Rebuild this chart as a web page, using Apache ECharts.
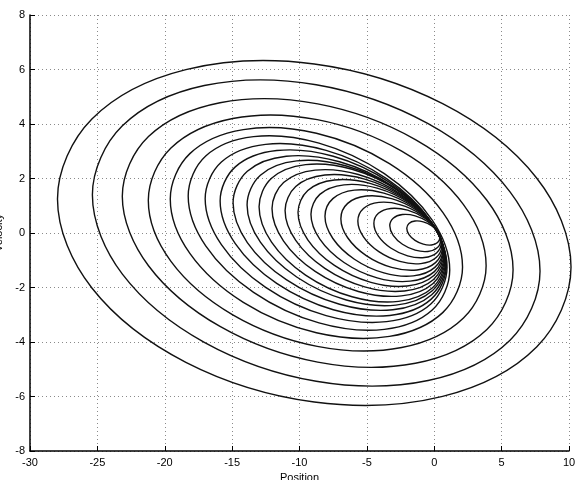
<!DOCTYPE html>
<html>
<head>
<meta charset="utf-8">
<script src="https://cdn.jsdelivr.net/npm/echarts@6/dist/echarts.min.js"></script>
<style>
html,body{margin:0;padding:0;background:#fff;}
#chart{width:579px;height:480px;}
</style>
</head>
<body>
<div id="chart"></div>
<script>
// Axis ticks
const xTicks = [-30, -25, -20, -15, -10, -5, 0, 5, 10];
const yTicks = [-8, -6, -4, -2, 0, 2, 4, 6, 8];
const xLabel = 'Position';
const yLabel = 'Velocity';

// Phase-plane loops, outermost first: [position, velocity] points
const orbit01 = [[10.15,-1.25],[7.597,-4.183],[0.623,-5.994],[-8.905,-6.2],[-18.433,-4.744],[-25.407,-2.018],[-27.96,1.25],[-25.407,4.183],[-18.433,5.994],[-8.905,6.2],[0.623,4.744],[7.597,2.018]];
const orbit02 = [[7.85,-1.4],[5.624,-3.932],[-0.455,-5.411],[-8.76,-5.44],[-17.065,-4.011],[-23.144,-1.508],[-25.37,1.4],[-23.144,3.932],[-17.065,5.411],[-8.76,5.44],[-0.455,4.011],[5.624,1.508]];
const orbit03 = [[5.85,-1.35],[3.907,-3.539],[-1.40,-4.78],[-8.65,-4.74],[-15.90,-3.43],[-21.207,-1.201],[-23.15,1.35],[-21.207,3.539],[-15.90,4.78],[-8.65,4.74],[-1.40,3.43],[3.907,1.201]];
const orbit04 = [[3.85,-1.2],[2.17,-3.119],[-2.418,-4.203],[-8.685,-4.16],[-14.953,-3.003],[-19.54,-1.041],[-21.22,1.2],[-19.54,3.119],[-14.953,4.203],[-8.685,4.16],[-2.418,3.003],[2.17,1.041]];
const orbit05 = [[2.10,-1.25],[0.647,-2.913],[-3.323,-3.795],[-8.745,-3.66],[-14.168,-2.545],[-18.137,-0.748],[-19.59,1.25],[-18.137,2.913],[-14.168,3.795],[-8.745,3.66],[-3.323,2.545],[0.647,0.748]];
const orbit06 = [[1.15,-1.36],[-0.15,-2.828],[-3.703,-3.538],[-8.555,-3.30],[-13.408,-2.178],[-16.96,-0.472],[-18.26,1.36],[-16.96,2.828],[-13.408,3.538],[-8.555,3.30],[-3.703,2.178],[-0.15,0.472]];
const orbit07 = [[0.95,-1.26],[-0.253,-2.606],[-3.538,-3.254],[-8.025,-3.03],[-12.513,-1.994],[-15.797,-0.424],[-17.0,1.26],[-15.797,2.606],[-12.513,3.254],[-8.025,3.03],[-3.538,1.994],[-0.253,0.424]];
const orbit08 = [[0.90,-1.175],[-0.225,-2.426],[-3.298,-3.025],[-7.495,-2.815],[-11.693,-1.850],[-14.765,-0.39],[-15.89,1.175],[-14.765,2.426],[-11.693,3.025],[-7.495,2.815],[-3.298,1.850],[-0.225,0.39]];
const orbit09 = [[0.87,-1.106],[-0.189,-2.266],[-3.08,-2.818],[-7.03,-2.615],[-10.98,-1.712],[-13.871,-0.35],[-14.93,1.106],[-13.871,2.266],[-10.98,2.818],[-7.03,2.615],[-3.08,1.712],[-0.189,0.35]];
const orbit10 = [[0.84,-1.031],[-0.147,-2.122],[-2.843,-2.645],[-6.525,-2.458],[-10.208,-1.614],[-12.903,-0.336],[-13.89,1.031],[-12.903,2.122],[-10.208,2.645],[-6.525,2.458],[-2.843,1.614],[-0.147,0.336]];
const orbit11 = [[0.80,-0.966],[-0.125,-2.007],[-2.65,-2.509],[-6.1,-2.34],[-9.55,-1.543],[-12.075,-0.333],[-13.0,0.966],[-12.075,2.007],[-9.55,2.509],[-6.1,2.34],[-2.65,1.543],[-0.125,0.333]];
const orbit12 = [[0.77,-0.897],[-0.088,-1.85],[-2.433,-2.307],[-5.635,-2.146],[-8.838,-1.41],[-11.182,-0.296],[-12.04,0.897],[-11.182,1.85],[-8.838,2.307],[-5.635,2.146],[-2.433,1.41],[-0.088,0.296]];
const orbit13 = [[0.74,-0.827],[-0.051,-1.705],[-2.213,-2.127],[-5.165,-1.978],[-8.118,-1.30],[-10.279,-0.273],[-11.07,0.827],[-10.279,1.705],[-8.118,2.127],[-5.165,1.978],[-2.213,1.30],[-0.051,0.273]];
const orbit14 = [[0.70,-0.757],[-0.024,-1.562],[-2.003,-1.947],[-4.705,-1.811],[-7.408,-1.19],[-9.386,-0.25],[-10.11,0.757],[-9.386,1.562],[-7.408,1.947],[-4.705,1.811],[-2.003,1.19],[-0.024,0.25]];
const orbit15 = [[0.67,-0.687],[0.012,-1.418],[-1.785,-1.768],[-4.24,-1.645],[-6.695,-1.081],[-8.492,-0.227],[-9.15,0.687],[-8.492,1.418],[-6.695,1.768],[-4.24,1.645],[-1.785,1.081],[0.012,0.227]];
const orbit16 = [[0.63,-0.612],[0.044,-1.262],[-1.555,-1.574],[-3.74,-1.464],[-5.925,-0.962],[-7.524,-0.202],[-8.11,0.612],[-7.524,1.262],[-5.925,1.574],[-3.74,1.464],[-1.555,0.962],[0.044,0.202]];
const orbit17 = [[0.60,-0.527],[0.095,-1.087],[-1.283,-1.356],[-3.165,-1.261],[-5.048,-0.829],[-6.425,-0.175],[-6.93,0.527],[-6.425,1.087],[-5.048,1.356],[-3.165,1.261],[-1.283,0.829],[0.095,0.175]];
const orbit18 = [[0.56,-0.436],[0.143,-0.90],[-0.998,-1.122],[-2.555,-1.044],[-4.113,-0.686],[-5.253,-0.144],[-5.67,0.436],[-5.253,0.90],[-4.113,1.122],[-2.555,1.044],[-0.998,0.686],[0.143,0.144]];
const orbit19 = [[0.52,-0.35],[0.185,-0.722],[-0.73,-0.901],[-1.98,-0.838],[-3.23,-0.551],[-4.145,-0.116],[-4.48,0.35],[-4.145,0.722],[-3.23,0.901],[-1.98,0.838],[-0.73,0.551],[0.185,0.116]];
const orbit20 = [[0.47,-0.264],[0.217,-0.545],[-0.473,-0.678],[-1.415,-0.631],[-2.358,-0.414],[-3.047,-0.087],[-3.30,0.264],[-3.047,0.545],[-2.358,0.678],[-1.415,0.631],[-0.473,0.414],[0.217,0.087]];
const orbit21 = [[0.41,-0.17],[0.246,-0.352],[-0.203,-0.44],[-0.815,-0.41],[-1.428,-0.27],[-1.876,-0.058],[-2.04,0.17],[-1.876,0.352],[-1.428,0.44],[-0.815,0.41],[-0.203,0.27],[0.246,0.058]];

const orbits = [orbit01, orbit02, orbit03, orbit04, orbit05, orbit06, orbit07, orbit08, orbit09, orbit10,
  orbit11, orbit12, orbit13, orbit14, orbit15, orbit16, orbit17, orbit18, orbit19, orbit20, orbit21];

const FONT = 'Liberation Sans, Arial, Helvetica, sans-serif';
const chart = echarts.init(document.getElementById('chart'), null, {renderer: 'canvas'});

const gridLine = {show: true, lineStyle: {color: '#8a8a8a', width: 1, type: [1, 3]}};

const option = {
  animation: false,
  backgroundColor: '#ffffff',
  grid: {left: 30, right: 10, top: 15, bottom: 29, containLabel: false, outerBoundsMode: 'none'},
  xAxis: {
    type: 'value',
    min: xTicks[0], max: xTicks[xTicks.length - 1], interval: 5,
    name: xLabel, nameLocation: 'middle', nameGap: 18,
    nameTextStyle: {fontFamily: FONT, fontSize: 11, color: '#000'},
    axisLine: {show: true, onZero: false, lineStyle: {color: '#000', width: 1.5}},
    axisTick: {show: true, inside: true, length: 5, lineStyle: {color: '#000', width: 1}},
    axisLabel: {fontFamily: FONT, fontSize: 11, color: '#000', margin: 6},
    splitLine: gridLine
  },
  yAxis: {
    type: 'value',
    min: yTicks[0], max: yTicks[yTicks.length - 1], interval: 2,
    name: yLabel, nameLocation: 'middle', nameGap: 21,
    nameTextStyle: {fontFamily: FONT, fontSize: 11, color: '#000'},
    axisLine: {show: true, onZero: false, lineStyle: {color: '#000', width: 1.5}},
    axisTick: {show: true, inside: true, length: 5, lineStyle: {color: '#000', width: 1}},
    axisLabel: {fontFamily: FONT, fontSize: 11, color: '#000', margin: 5},
    splitLine: gridLine
  },
  series: orbits.map(function (pts, i) {
    return {
      type: 'custom',
      name: 'orbit' + (i + 1),
      coordinateSystem: 'cartesian2d',
      data: pts,
      encode: {x: 0, y: 1},
      silent: true,
      renderItem: function (params, api) {
        if (params.dataIndex !== 0) return null;
        const points = pts.map(function (p) { return api.coord(p); });
        return {
          type: 'polygon',
          shape: {points: points, smooth: 0.35},
          style: {fill: 'none', stroke: '#111', lineWidth: 1.4}
        };
      }
    };
  })
};
chart.setOption(option);
</script>
</body>
</html>
